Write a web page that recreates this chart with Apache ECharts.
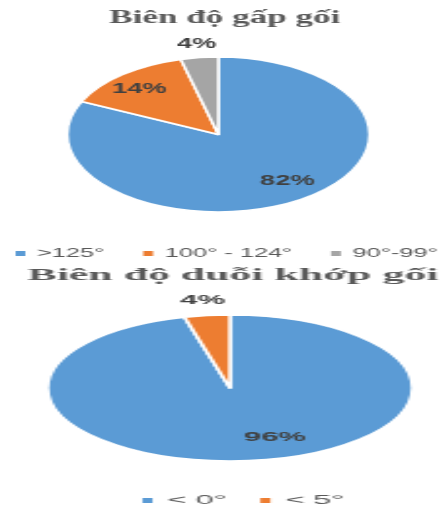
<!DOCTYPE html>
<html>
<head>
<meta charset="utf-8">
<script src="https://cdn.jsdelivr.net/npm/echarts@6/dist/echarts.min.js"></script>
<style>
  html, body {
    margin: 0;
    padding: 0;
    width: 440px;
    height: 506px;
    overflow: hidden;
    background: #fff;
  }
  .chart {
    position: absolute;
    left: 0;
    top: 0;
    height: 506px;
    transform-origin: 0 0;
  }
  /* the pies are stretched sideways like in the picture */
  #flex { width: 250px; transform: scaleX(1.95); }
  #ext { width: 180px; transform: scaleX(2.5); }
</style>
</head>
<body>
<div class="chart" id="flex"></div>
<div class="chart" id="ext"></div>
<script>
// Biên độ gấp gối
const flexTitle = 'Biên độ gấp gối';
const flexNames = ['>125°', '100° - 124°', '90°-99°'];
const flexValues = [82, 14, 4];

// Biên độ duỗi khớp gối
const extTitle = 'Biên độ duỗi khớp gối';
const extNames = ['< 0°', '< 5°'];
const extValues = [96, 4];

const colors = ['#5B9BD5', '#ED7D31', '#A5A5A5'];

// label nudges (Excel "best fit" places them away from the middle radius)
const flexShift = [[13, 11], [-14, -13], [-6, -49]];
const extShift = [[13, 10], [-6, -48]];

function makeOption(opt) {
  return {
    animation: false,
    color: colors,
    title: {
      text: opt.title,
      left: opt.titleLeft,
      top: opt.titleTop,
      padding: 0,
      textStyle: {
        fontFamily: 'Liberation Serif',
        fontWeight: 'bold',
        fontSize: opt.titleSize,
        color: '#595959',
      },
    },
    legend: {
      left: opt.legendLeft,
      top: opt.legendTop,
      padding: 0,
      itemGap: opt.legendGap,
      itemWidth: opt.iconW,
      itemHeight: 7,
      icon: 'rect',
      data: opt.names,
      textStyle: {
        fontFamily: 'Liberation Sans',
        fontSize: opt.legendSize,
        color: '#595959',
      },
    },
    series: [
      {
        type: 'pie',
        center: [opt.cx, opt.cy],
        radius: opt.r,
        startAngle: 90,
        clockwise: true,
        silent: true,
        itemStyle: { borderColor: '#fff', borderWidth: 1.5 },
        label: {
          show: true,
          position: 'inside',
          formatter: '{c}%',
          fontFamily: 'Liberation Sans',
          fontWeight: 'bold',
          fontSize: opt.labelSize,
          color: '#404040',
        },
        labelLine: { show: false },
        labelLayout: (p) => ({ dx: opt.shift[p.dataIndex][0], dy: opt.shift[p.dataIndex][1] }),
        data: opt.names.map((n, i) => ({ name: n, value: opt.values[i] })),
      },
    ],
  };
}

const chart1 = echarts.init(document.getElementById('flex'));
chart1.setOption(makeOption({
  title: flexTitle, titleLeft: 56, titleTop: 9, titleSize: 18,
  names: flexNames, values: flexValues, shift: flexShift,
  legendLeft: 6, legendTop: 247, legendGap: 18, iconW: 7, legendSize: 13,
  cx: 112, cy: 134.5, r: 77.5, labelSize: 14,
}));

const chart2 = echarts.init(document.getElementById('ext'));
chart2.setOption(makeOption({
  title: extTitle, titleLeft: 11, titleTop: 266, titleSize: 17.5,
  names: extNames, values: extValues, shift: extShift,
  legendLeft: 55, legendTop: 494, legendGap: 11.5, iconW: 6, legendSize: 13,
  cx: 92, cy: 388, r: 73, labelSize: 12.5,
}));
</script>
</body>
</html>
